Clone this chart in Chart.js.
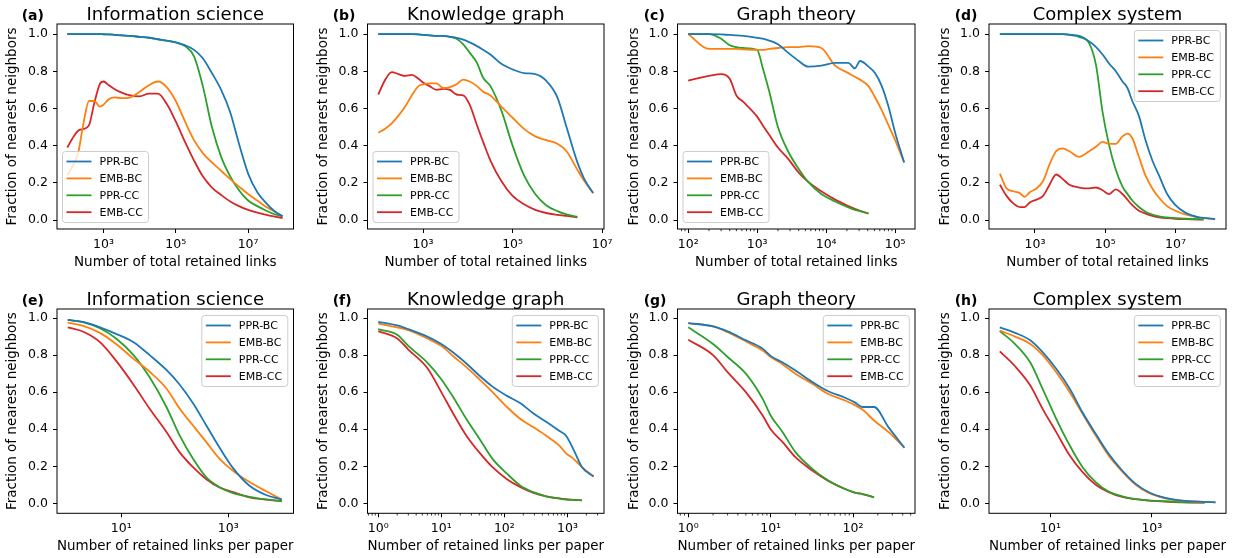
<!DOCTYPE html>
<html>
<head>
<meta charset="utf-8">
<script src="https://cdn.jsdelivr.net/npm/chart.js@4.4.1/dist/chart.umd.min.js"></script>
<style>
  html, body { margin: 0; padding: 0; background: #fff; }
  #fig { position: relative; width: 1244px; height: 558px; overflow: hidden; }
  #fig canvas { position: absolute; }
</style>
</head>
<body>
<div id="fig"></div>
<script>
// legend entries, same order in every panel
const seriesNames = ['PPR-BC', 'EMB-BC', 'PPR-CC', 'EMB-CC'];
const seriesColors = ['#1f77b4', '#ff7f0e', '#2ca02c', '#d62728'];

// (a) Information science - total retained links
const aX = [100, 140, 200, 280, 400, 560, 790, 1000, 1400, 2000, 3200, 5600, 1e4, 1.8e4, 3.2e4, 5.6e4,
            1e5, 1.8e5, 3.2e5, 5.6e5, 1e6, 1.8e6, 3.2e6, 5.6e6, 1e7, 1.8e7, 3.2e7, 5.6e7, 9e7];
const aPprBc = [1.0, 1.0, 1.0, 1.0, 1.0, 1.0, 1.0, 0.999, 0.998, 0.996, 0.993, 0.99, 0.985, 0.98, 0.972, 0.965,
                0.955, 0.94, 0.915, 0.87, 0.79, 0.70, 0.58, 0.41, 0.25, 0.15, 0.09, 0.045, 0.02];
const aEmbBc = [0.24, 0.29, 0.36, 0.52, 0.64, 0.64, 0.61, 0.62, 0.65, 0.66, 0.655, 0.66, 0.69, 0.725, 0.745, 0.715,
                0.64, 0.53, 0.43, 0.36, 0.31, 0.265, 0.22, 0.18, 0.14, 0.105, 0.07, 0.045, 0.02];
const aPprCc = [1.0, 1.0, 1.0, 1.0, 1.0, 1.0, 1.0, 0.999, 0.998, 0.996, 0.993, 0.99, 0.985, 0.98, 0.972, 0.965,
                0.955, 0.935, 0.88, 0.72, 0.50, 0.34, 0.235, 0.16, 0.105, 0.075, 0.05, 0.03, 0.02];
const aEmbCc = [0.39, 0.44, 0.48, 0.49, 0.51, 0.63, 0.73, 0.745, 0.725, 0.705, 0.685, 0.67, 0.665, 0.68, 0.68, 0.625,
                0.53, 0.42, 0.32, 0.235, 0.175, 0.135, 0.10, 0.075, 0.055, 0.04, 0.028, 0.018, 0.01];

// (b) Knowledge graph - total retained links
const bX = [100, 140, 200, 280, 400, 560, 790, 1000, 1400, 2000, 2800, 4000, 5600, 7900, 11000, 16000,
            22000, 32000, 56000, 1e5, 1.8e5, 3.2e5, 5.6e5, 1e6, 1.6e6, 2.8e6, 4e6, 6.3e6];
const bPprBc = [1.0, 1.0, 1.0, 1.0, 1.0, 1.0, 0.998, 0.995, 0.993, 0.99, 0.99, 0.985, 0.98, 0.97, 0.955, 0.935,
                0.915, 0.89, 0.84, 0.81, 0.79, 0.785, 0.75, 0.66, 0.50, 0.31, 0.22, 0.145];
const bEmbBc = [0.47, 0.49, 0.52, 0.56, 0.61, 0.67, 0.72, 0.73, 0.735, 0.735, 0.71, 0.715, 0.73, 0.755, 0.745, 0.72,
                0.69, 0.67, 0.61, 0.55, 0.49, 0.45, 0.43, 0.41, 0.37, 0.27, 0.21, 0.145];
const bPprCc = [1.0, 1.0, 1.0, 1.0, 1.0, 1.0, 0.998, 0.995, 0.993, 0.99, 0.99, 0.985, 0.975, 0.945, 0.90, 0.845,
                0.765, 0.72, 0.59, 0.40, 0.24, 0.14, 0.08, 0.048, 0.03, 0.018, null, null];
const bEmbCc = [0.675, 0.75, 0.795, 0.785, 0.775, 0.78, 0.76, 0.74, 0.72, 0.70, 0.705, 0.70, 0.675, 0.67, 0.62, 0.51,
                0.42, 0.32, 0.21, 0.13, 0.085, 0.055, 0.038, 0.028, 0.022, 0.015, null, null];

// (c) Graph theory - total retained links
const cX = [100, 200, 300, 400, 500, 630, 1000, 1200, 1500, 2000, 2800, 4000, 5500, 8500, 13500, 21000,
            26000, 31000, 41000, 51000, 64000, 80000, 1e5, 1.35e5];
const cPprBc = [1.0, 1.0, 0.998, 0.995, 0.993, 0.99, 0.98, 0.975, 0.965, 0.945, 0.90, 0.855, 0.825, 0.83, 0.845, 0.845,
                0.815, 0.855, 0.825, 0.79, 0.72, 0.61, 0.47, 0.31];
const cEmbBc = [1.0, 0.92, 0.92, 0.92, 0.92, 0.918, 0.915, 0.915, 0.92, 0.925, 0.93, 0.93, 0.935, 0.925, 0.83, 0.79,
                0.77, 0.755, 0.72, 0.66, 0.59, 0.51, 0.43, 0.31];
const cPprCc = [1.0, 1.0, 0.975, 0.94, 0.93, 0.925, 0.915, 0.82, 0.69, 0.50, 0.37, 0.275, 0.205, 0.14, 0.10, 0.068,
                0.055, 0.048, 0.035, null, null, null, null, null];
const cEmbCc = [0.75, 0.775, 0.785, 0.76, 0.67, 0.635, 0.556, 0.51, 0.457, 0.39, 0.33, 0.255, 0.205, 0.155, 0.11, 0.075,
                0.06, 0.05, 0.036, null, null, null, null, null];

// (d) Complex system - total retained links
const dX = [100, 155, 240, 370, 510, 710, 1100, 1700, 2600, 4000, 6200, 9500, 18000, 35000, 55000, 84000,
            1.3e5, 2e5, 3.1e5, 4.3e5, 5.9e5, 9.1e5, 1.4e6, 2.2e6, 3.4e6, 5.8e6, 1e7, 1.9e7, 4.6e7, 6.3e7, 1.35e8];
const dPprBc = [1.0, 1.0, 1.0, 1.0, 1.0, 1.0, 1.0, 1.0, 1.0, 1.0, 1.0, 0.997, 0.99, 0.96, 0.93, 0.89,
                0.84, 0.80, 0.745, 0.71, 0.64, 0.56, 0.43, 0.32, 0.24, 0.14, 0.08, 0.04, 0.015, 0.012, 0.005];
const dEmbBc = [0.25, 0.17, 0.155, 0.145, 0.125, 0.15, 0.17, 0.21, 0.30, 0.37, 0.385, 0.37, 0.34, 0.37, 0.395, 0.42,
                0.41, 0.41, 0.45, 0.465, 0.44, 0.34, 0.24, 0.17, 0.12, 0.075, 0.05, 0.03, 0.015, 0.01, 0.005];
const dPprCc = [1.0, 1.0, 1.0, 1.0, 1.0, 1.0, 1.0, 1.0, 1.0, 1.0, 1.0, 0.995, 0.985, 0.95, 0.83, 0.58,
                0.40, 0.27, 0.18, 0.14, 0.105, 0.07, 0.045, 0.03, 0.02, 0.014, 0.01, 0.007, 0.005, 0.004, null];
const dEmbCc = [0.19, 0.13, 0.09, 0.07, 0.07, 0.095, 0.11, 0.13, 0.19, 0.245, 0.22, 0.19, 0.175, 0.17, 0.175, 0.16,
                0.14, 0.165, 0.14, 0.11, 0.08, 0.05, 0.035, 0.022, 0.015, 0.01, 0.007, 0.005, 0.003, 0.002, null];

// (e) Information science - links per paper
const eX = [1, 2, 4, 8, 17, 34, 70, 124, 220, 390, 690, 1230, 2500, 5100, 10000];
const ePprBc = [0.99, 0.978, 0.95, 0.915, 0.87, 0.80, 0.72, 0.64, 0.54, 0.42, 0.30, 0.19, 0.095, 0.045, 0.02];
const eEmbBc = [0.975, 0.957, 0.92, 0.86, 0.78, 0.71, 0.62, 0.51, 0.42, 0.33, 0.24, 0.175, 0.115, 0.065, 0.02];
const ePprCc = [0.99, 0.977, 0.945, 0.89, 0.80, 0.68, 0.52, 0.365, 0.24, 0.14, 0.087, 0.055, 0.035, 0.021, 0.011];
const eEmbCc = [0.95, 0.925, 0.87, 0.77, 0.64, 0.51, 0.385, 0.275, 0.195, 0.13, 0.085, 0.06, 0.032, 0.02, 0.011];

// (f) Knowledge graph - links per paper
const fX = [1, 2, 3, 6, 10, 16, 25, 40, 65, 110, 180, 290, 460, 750, 950, 1250, 1700, 2600];
const fPprBc = [0.98, 0.96, 0.94, 0.90, 0.86, 0.81, 0.755, 0.69, 0.63, 0.58, 0.54, 0.485, 0.44, 0.39, 0.365, 0.29, 0.195, 0.145];
const fEmbBc = [0.97, 0.95, 0.935, 0.89, 0.85, 0.79, 0.735, 0.67, 0.60, 0.52, 0.455, 0.41, 0.365, 0.31, 0.27, 0.24, 0.195, 0.145];
const fPprCc = [0.94, 0.91, 0.85, 0.76, 0.67, 0.565, 0.455, 0.35, 0.24, 0.16, 0.095, 0.06, 0.038, 0.025, 0.02, 0.018, 0.016, null];
const fEmbCc = [0.93, 0.89, 0.83, 0.73, 0.60, 0.475, 0.365, 0.275, 0.195, 0.13, 0.087, 0.056, 0.038, 0.026, 0.022, 0.019, 0.016, null];

// (g) Graph theory - links per paper
const gX = [1, 2, 3, 5, 8, 10, 14, 20, 32, 50, 80, 105, 130, 180, 270, 420];
const gPprBc = [0.973, 0.955, 0.928, 0.88, 0.835, 0.796, 0.76, 0.717, 0.655, 0.605, 0.57, 0.545, 0.52, 0.52, 0.41, 0.30];
const gEmbBc = [0.973, 0.955, 0.924, 0.874, 0.825, 0.79, 0.75, 0.70, 0.645, 0.59, 0.555, 0.53, 0.506, 0.447, 0.384, 0.30];
const gPprCc = [0.95, 0.86, 0.79, 0.70, 0.564, 0.474, 0.384, 0.276, 0.186, 0.123, 0.077, 0.058, 0.05, 0.032, null, null];
const gEmbCc = [0.883, 0.80, 0.708, 0.60, 0.474, 0.40, 0.33, 0.249, 0.177, 0.121, 0.077, 0.058, 0.05, 0.032, null, null];

// (h) Complex system - links per paper
const hX = [1, 2, 4, 7, 13, 24, 43, 78, 140, 260, 480, 870, 1850, 3900, 11000, 18000];
const hPprBc = [0.95, 0.92, 0.88, 0.816, 0.726, 0.618, 0.49, 0.375, 0.267, 0.177, 0.105, 0.06, 0.029, 0.014, 0.008, 0.005];
const hEmbBc = [0.933, 0.90, 0.86, 0.80, 0.708, 0.60, 0.483, 0.366, 0.258, 0.171, 0.10, 0.056, 0.027, 0.014, 0.008, 0.005];
const hPprCc = [0.93, 0.86, 0.76, 0.618, 0.456, 0.312, 0.195, 0.114, 0.063, 0.038, 0.023, 0.016, 0.011, 0.007, 0.004, null];
const hEmbCc = [0.82, 0.74, 0.636, 0.51, 0.384, 0.258, 0.168, 0.10, 0.06, 0.034, 0.022, 0.014, 0.009, 0.005, 0.004, null];

// tick values
const yTicks = [0, 0.2, 0.4, 0.6, 0.8, 1.0];
const oddDecadeTicks = [1e3, 1e5, 1e7];
const cTicks = [1e2, 1e3, 1e4, 1e5];
const perPaperTicks = [10, 1000];
const fTicks = [1, 10, 100, 1000];
const gTicks = [1, 10, 100];
const cMinor = [80, 90, 200, 300, 400, 500, 600, 700, 800, 900, 2000, 3000, 4000, 5000, 6000, 7000, 8000, 9000,
                2e4, 3e4, 4e4, 5e4, 6e4, 7e4, 8e4, 9e4];
const fMinor = [0.7, 0.8, 0.9, 2, 3, 4, 5, 6, 7, 8, 9, 20, 30, 40, 50, 60, 70, 80, 90,
                200, 300, 400, 500, 600, 700, 800, 900, 2000, 3000];
const gMinor = [0.8, 0.9, 2, 3, 4, 5, 6, 7, 8, 9, 20, 30, 40, 50, 60, 70, 80, 90, 200, 300, 400, 500];

const totalLinks = 'Number of total retained links';
const perPaper = 'Number of retained links per paper';

const panels = [
  { tag: '(a)', title: 'Information science', xTitle: totalLinks, x: aX, ys: [aPprBc, aEmbBc, aPprCc, aEmbCc],
    ticks: oddDecadeTicks, minor: [], xMin: 52, xMax: 1.8e8, legend: 'lower left' },
  { tag: '(b)', title: 'Knowledge graph', xTitle: totalLinks, x: bX, ys: [bPprBc, bEmbBc, bPprCc, bEmbCc],
    ticks: oddDecadeTicks, minor: [], xMin: 57.5, xMax: 1.1e7, legend: 'lower left' },
  { tag: '(c)', title: 'Graph theory', xTitle: totalLinks, x: cX, ys: [cPprBc, cEmbBc, cPprCc, cEmbCc],
    ticks: cTicks, minor: cMinor, xMin: 70, xMax: 1.94e5, legend: 'lower left' },
  { tag: '(d)', title: 'Complex system', xTitle: totalLinks, x: dX, ys: [dPprBc, dEmbBc, dPprCc, dEmbCc],
    ticks: oddDecadeTicks, minor: [], xMin: 49, xMax: 2.75e8, legend: 'upper right' },
  { tag: '(e)', title: 'Information science', xTitle: perPaper, x: eX, ys: [ePprBc, eEmbBc, ePprCc, eEmbCc],
    ticks: perPaperTicks, minor: [], xMin: 0.63, xMax: 16600, legend: 'upper right' },
  { tag: '(f)', title: 'Knowledge graph', xTitle: perPaper, x: fX, ys: [fPprBc, fEmbBc, fPprCc, fEmbCc],
    ticks: fTicks, minor: fMinor, xMin: 0.676, xMax: 3800, legend: 'upper right' },
  { tag: '(g)', title: 'Graph theory', xTitle: perPaper, x: gX, ys: [gPprBc, gEmbBc, gPprCc, gEmbCc],
    ticks: gTicks, minor: gMinor, xMin: 0.74, xMax: 565, legend: 'upper right' },
  { tag: '(h)', title: 'Complex system', xTitle: perPaper, x: hX, ys: [hPprBc, hEmbBc, hPprCc, hEmbCc],
    ticks: perPaperTicks, minor: [], xMin: 0.613, xMax: 29000, legend: 'upper right' }
];

// layout of the 2x4 grid (px inside each 311x279 cell)
const CELL_W = 311, CELL_H = 279;
const plotLeft = [57, 56.5, 55.5, 56];
const plotRight = [293.5, 293, 293, 293];
const plotTop = [24, 30];
const plotBottom = [229, 234.3];
const yRange = [[-0.048, 1.054], [-0.054, 1.049]];
const xTitlePad = [8, 3];

const FONT = '"DejaVu Sans", sans-serif';
Chart.defaults.font.family = FONT;
Chart.defaults.color = '#000';

const SUP = { '0': '⁰', '1': '¹', '2': '²', '3': '³', '4': '⁴', '5': '⁵', '6': '⁶', '7': '⁷', '8': '⁸', '9': '⁹', '-': '⁻' };
function powLabel(v) {
  const e = Math.round(Math.log10(v));
  return '10' + String(e).split('').map(c => SUP[c]).join('');
}

// frame, title, panel letter, minor ticks and in-axes legend (matplotlib look)
const decor = {
  id: 'decor',
  afterDatasetsDraw(chart, args, opts) {
    const { ctx, chartArea: ca } = chart;
    const xs = chart.scales.x;
    ctx.save();
    ctx.strokeStyle = '#000';
    ctx.lineWidth = 0.8;
    opts.minor.forEach(v => {
      const px = xs.getPixelForValue(v);
      ctx.beginPath();
      ctx.moveTo(px, ca.bottom);
      ctx.lineTo(px, ca.bottom + 2.2);
      ctx.stroke();
    });

    // legend box
    const w = 86, h = 71;
    const x0 = opts.legend === 'lower left' ? ca.left + 5.5 : ca.right - 5.7 - w;
    const y0 = opts.legend === 'lower left' ? ca.bottom - 6.5 - h : ca.top + 6.5;
    ctx.beginPath();
    ctx.roundRect(x0, y0, w, h, 3);
    ctx.fillStyle = 'rgba(255,255,255,0.8)';
    ctx.fill();
    ctx.strokeStyle = '#cccccc';
    ctx.lineWidth = 1;
    ctx.stroke();
    ctx.font = '11px ' + FONT;
    ctx.textBaseline = 'middle';
    ctx.textAlign = 'left';
    chart.data.datasets.forEach((ds, i) => {
      const y = y0 + 10 + i * 16.9;
      ctx.beginPath();
      ctx.moveTo(x0 + 4, y);
      ctx.lineTo(x0 + 29, y);
      ctx.strokeStyle = ds.borderColor;
      ctx.lineWidth = 1.8;
      ctx.stroke();
      ctx.fillStyle = '#000';
      ctx.fillText(ds.label, x0 + 37, y + 0.5);
    });
    ctx.restore();
  },
  afterDraw(chart, args, opts) {
    const { ctx, chartArea: ca } = chart;
    ctx.save();
    ctx.strokeStyle = '#000';
    ctx.lineWidth = 1;
    ctx.strokeRect(ca.left, ca.top, ca.right - ca.left, ca.bottom - ca.top);
    ctx.fillStyle = '#000';
    ctx.textBaseline = 'alphabetic';
    ctx.textAlign = 'center';
    ctx.font = '18px ' + FONT;
    ctx.fillText(opts.title, (ca.left + ca.right) / 2, ca.top - 4);
    ctx.textAlign = 'left';
    ctx.font = 'bold 14px ' + FONT;
    ctx.fillText(opts.tag, 21.7, ca.top - 4);
    ctx.restore();
  }
};

const fig = document.getElementById('fig');

panels.forEach((p, k) => {
  const col = k % 4, row = Math.floor(k / 4);
  const canvas = document.createElement('canvas');
  canvas.width = CELL_W;
  canvas.height = CELL_H;
  canvas.style.left = (col * CELL_W) + 'px';
  canvas.style.top = (row * CELL_H) + 'px';
  fig.appendChild(canvas);

  const datasets = p.ys.map((ys, i) => ({
    label: seriesNames[i],
    data: p.x.map((x, j) => ({ x: x, y: ys[j] })).filter(d => d.y !== null),
    borderColor: seriesColors[i],
    backgroundColor: seriesColors[i],
    borderWidth: 1.8,
    pointRadius: 0,
    cubicInterpolationMode: 'monotone',
    borderJoinStyle: 'round'
  }));

  new Chart(canvas, {
    type: 'line',
    data: { datasets },
    plugins: [decor],
    options: {
      responsive: false,
      animation: false,
      devicePixelRatio: 1,
      layout: { padding: { left: 0, right: CELL_W - plotRight[col], top: plotTop[row], bottom: 0 } },
      plugins: {
        legend: { display: false },
        tooltip: { enabled: false },
        decor: { title: p.title, tag: p.tag, minor: p.minor, legend: p.legend }
      },
      scales: {
        x: {
          type: 'logarithmic',
          bounds: 'data',
          min: p.xMin,
          max: p.xMax,
          afterBuildTicks: s => { s.ticks = p.ticks.map(v => ({ value: v })); },
          afterFit: s => { s.height = CELL_H - plotBottom[row]; s.paddingLeft = 0; s.paddingRight = 0; },
          ticks: {
            autoSkip: false, maxRotation: 0, padding: 4, color: '#000',
            font: { size: 12.5 },
            callback: v => powLabel(v)
          },
          grid: { drawOnChartArea: false, color: '#000', tickLength: 4, tickWidth: 1 },
          border: { display: false },
          title: { display: true, text: p.xTitle, color: '#000', font: { size: 13.5 },
                   padding: { top: 0, bottom: xTitlePad[row] } }
        },
        y: {
          type: 'linear',
          bounds: 'data',
          min: yRange[row][0],
          max: yRange[row][1],
          afterBuildTicks: s => { s.ticks = yTicks.map(v => ({ value: v })); },
          afterFit: s => { s.width = plotLeft[col]; s.paddingTop = 0; s.paddingBottom = 0; },
          ticks: { padding: 5, color: '#000', font: { size: 12.5 }, callback: v => v.toFixed(1) },
          grid: { drawOnChartArea: false, color: '#000', tickLength: 4, tickWidth: 1 },
          border: { display: false },
          title: { display: true, text: 'Fraction of nearest neighbors', color: '#000', font: { size: 13.5 },
                   padding: { top: 4, bottom: 0 } }
        }
      }
    }
  });
});
</script>
</body>
</html>
